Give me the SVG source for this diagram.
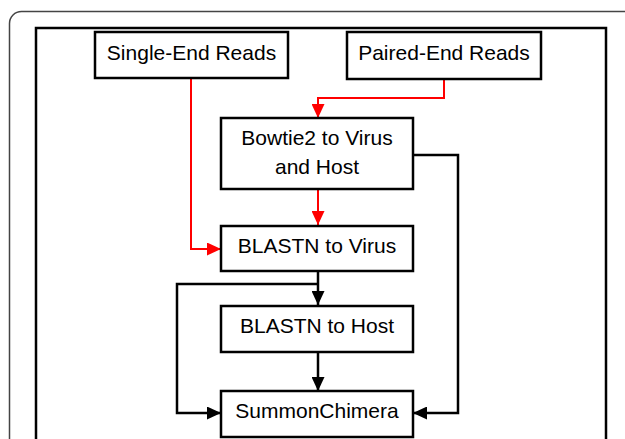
<svg xmlns="http://www.w3.org/2000/svg" width="625" height="439" viewBox="0 0 625 439">
<style>
.box{fill:#fff;stroke:#000;stroke-width:2.5}
.t{font-family:"Liberation Sans",Arial,sans-serif;font-size:21px;fill:#000;text-anchor:middle}
.red{fill:none;stroke:#f00;stroke-width:2}
.blk{fill:none;stroke:#000;stroke-width:2.5}
</style>
<defs>
<marker id="ar" viewBox="0 0 14 13" refX="14" refY="6.5" markerWidth="14" markerHeight="13" markerUnits="userSpaceOnUse" orient="auto"><path d="M0,0L14,6.5L0,13z" fill="#f00"/></marker>
<marker id="ab" viewBox="0 0 14 13" refX="14" refY="6.5" markerWidth="14" markerHeight="13" markerUnits="userSpaceOnUse" orient="auto"><path d="M0,0L14,6.5L0,13z" fill="#000"/></marker>
</defs>
<rect width="625" height="439" fill="#fff"/>
<rect x="9.5" y="11.5" width="640" height="460" rx="12" fill="none" stroke="#444" stroke-width="1.5"/>
<rect x="36" y="28" width="570" height="440" fill="none" stroke="#000" stroke-width="2.5"/>
<g id="connectors">
<polyline class="red" points="191,78 191,249 221,249" marker-end="url(#ar)"/>
<polyline class="red" points="444,79 444,98 318,98 318,118" marker-end="url(#ar)"/>
<polyline class="red" points="318,189 318,225" marker-end="url(#ar)"/>
<polyline class="blk" points="318,271 318,305" marker-end="url(#ab)"/>
<polyline class="blk" points="318,284 177,284 177,413 221,413" marker-end="url(#ab)"/>
<polyline class="blk" points="318,352 318,391" marker-end="url(#ab)"/>
<polyline class="blk" points="413,155 458,155 458,413 413,413" marker-end="url(#ab)"/>
</g>
<g id="single"><rect class="box" x="95" y="32" width="193" height="46"/><text class="t" x="191.5" y="60">Single-End Reads</text></g>
<g id="paired"><rect class="box" x="347" y="32" width="194" height="47"/><text class="t" x="444" y="60">Paired-End Reads</text></g>
<g id="bowtie"><rect class="box" x="221" y="118" width="192" height="71"/><text class="t" x="317" y="145">Bowtie2 to Virus</text><text class="t" x="317" y="174">and Host</text></g>
<g id="blastvirus"><rect class="box" x="221" y="226" width="192" height="45"/><text class="t" x="317" y="253">BLASTN to Virus</text></g>
<g id="blasthost"><rect class="box" x="221" y="306" width="192" height="46"/><text class="t" x="317" y="333">BLASTN to Host</text></g>
<g id="summon"><rect class="box" x="221" y="391" width="192" height="46"/><text class="t" x="317" y="418">SummonChimera</text></g>
</svg>
